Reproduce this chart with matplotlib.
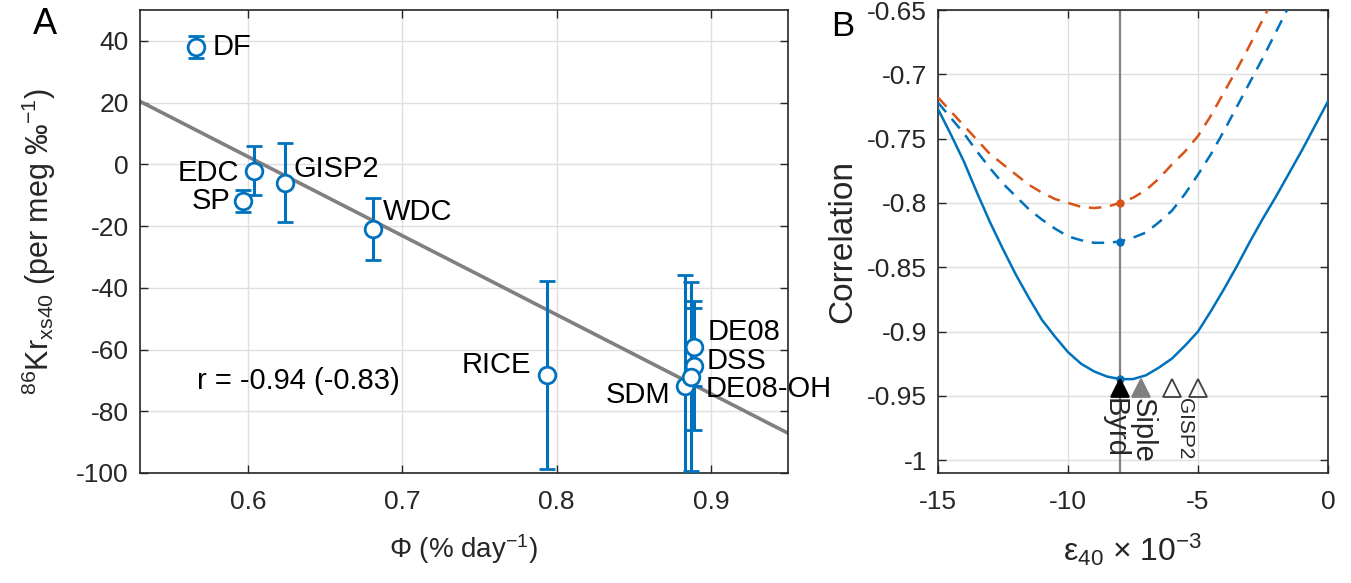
import matplotlib.pyplot as plt
import numpy as np

plt.rcParams['font.family'] = ['Liberation Sans', 'DejaVu Sans']
plt.rcParams['mathtext.fontset'] = 'custom'
plt.rcParams['mathtext.rm'] = 'Liberation Sans'
plt.rcParams['mathtext.it'] = 'Liberation Sans:italic'
plt.rcParams['mathtext.default'] = 'regular'
plt.rcParams['axes.unicode_minus'] = False

# ---- panel A data ----
sites = ['DF', 'EDC', 'SP', 'GISP2', 'WDC', 'RICE', 'SDM', 'DE08', 'DSS', 'DE08-OH']
phi = [0.566, 0.604, 0.597, 0.624, 0.681, 0.794, 0.883, 0.889, 0.889, 0.887]
kr = [38.0, -2.0, -11.8, -6.0, -21.0, -68.3, -71.7, -59.1, -65.2, -68.8]
kr_err = [3.7, 8.0, 3.5, 12.8, 10.0, 30.5, 36.0, 12.6, 20.8, 30.6]
fit_phi = [0.53, 0.95]
fit_kr = [20.4, -87.1]
r_text = 'r = -0.94 (-0.83)'

# ---- panel B data ----
eps_solid = [-15, -14.5, -14, -13.5, -13, -12.5, -12, -11.5, -11, -10.5, -10, -9.5, -9,
             -8.5, -8, -7.5, -7, -6.5, -6, -5.5, -5, -4.5, -4, -3.5, -3, -2.5, -2,
             -1.5, -1, -0.5, 0]
corr_solid = [-0.727, -0.747, -0.768, -0.792, -0.815, -0.836, -0.856, -0.874, -0.891,
              -0.904, -0.916, -0.925, -0.931, -0.935, -0.937, -0.937, -0.934, -0.928,
              -0.921, -0.911, -0.900, -0.884, -0.867, -0.849, -0.830, -0.812, -0.795,
              -0.777, -0.759, -0.740, -0.721]
eps_dash_blue = [-15, -14.5, -14, -13.5, -13, -12.5, -12, -11.5, -11, -10.5, -10, -9.5,
                 -9, -8.5, -8, -7.5, -7, -6.5, -6, -5.5, -5, -4.5, -4, -3.5, -3, -2.5,
                 -2, -1.5]
corr_dash_blue = [-0.722, -0.734, -0.746, -0.760, -0.773, -0.785, -0.795, -0.805, -0.813,
                  -0.820, -0.826, -0.829, -0.831, -0.831, -0.830, -0.827, -0.823, -0.815,
                  -0.806, -0.793, -0.778, -0.762, -0.744, -0.725, -0.706, -0.687, -0.667,
                  -0.647]
eps_dash_red = [-15, -14.5, -14, -13.5, -13, -12.5, -12, -11.5, -11, -10.5, -10, -9.5,
                -9, -8.5, -8, -7.5, -7, -6.5, -6, -5.5, -5, -4.5, -4, -3.5, -3, -2.5,
                -2.2]
corr_dash_red = [-0.718, -0.729, -0.740, -0.751, -0.762, -0.770, -0.778, -0.786, -0.792,
                 -0.797, -0.800, -0.803, -0.804, -0.803, -0.800, -0.796, -0.790, -0.781,
                 -0.770, -0.760, -0.748, -0.732, -0.714, -0.696, -0.677, -0.657, -0.645]
eps_best = -8
corr_best = [-0.937, -0.830, -0.800]
cores = ['Byrd', 'Siple', 'GISP2', 'GISP2']
core_eps = [-8, -7.2, -6, -5]
core_level = -0.944

blue = '#0072BD'
red = '#D95319'
axcol = '#262626'

fig = plt.figure(figsize=(13.51, 5.83), dpi=100)
axA = fig.add_axes([140/1351, 110/583, 648/1351, 463/583])
axB = fig.add_axes([938/1351, 110/583, 390/1351, 463/583])

for ax in (axA, axB):
    ax.grid(True, color='#dfdfdf', lw=1.0)
    ax.set_axisbelow(True)
    ax.tick_params(direction='in', length=6, width=1.0, colors=axcol,
                   labelsize=19, top=True, right=True)
    ax.tick_params(axis='x', pad=12)
    ax.tick_params(axis='y', pad=8)
    for s in ax.spines.values():
        s.set_color(axcol)
        s.set_linewidth(1.2)

# panel A
axA.plot(fit_phi, fit_kr, color='#808080', lw=2.6, zorder=2)
axA.errorbar(phi, kr, yerr=kr_err, fmt='o', color=blue, ecolor=blue, elinewidth=2.2,
             capsize=5.5, capthick=2.2, markersize=12, markerfacecolor='white',
             markeredgewidth=2, zorder=3)
label_off = {'DF': (12, 0, 'left'), 'EDC': (-10.5, -1.5, 'right'), 'SP': (-9.5, 0, 'right'),
             'GISP2': (6, 10, 'left'), 'WDC': (7, 12, 'left'), 'RICE': (-12, 7, 'right'),
             'SDM': (-10, -7, 'right'), 'DE08': (10, 10.5, 'left'), 'DSS': (9.5, 3.5, 'left'),
             'DE08-OH': (11, -9, 'left')}
for name, x, y in zip(sites, phi, kr):
    dx, dy, ha = label_off[name]
    axA.annotate(name, (x, y), xytext=(dx, dy), textcoords='offset points',
                 ha=ha, va='center', fontsize=21, color='black', zorder=4)
axA.text(0.567, -70.3, r_text, fontsize=21, ha='left', va='center')
axA.set_xlim(0.53, 0.95)
axA.set_ylim(-100, 50)
axA.set_xticks([0.6, 0.7, 0.8, 0.9])
axA.set_yticks(np.arange(-100, 41, 20))
axA.set_xlabel('$\\Phi$ (% day$^{-1}$)', fontsize=20, color=axcol, labelpad=13)
axA.set_ylabel('$^{86}$Kr$_{xs40}$ (per meg \u2030$^{-1}$)', fontsize=22, color=axcol,
               labelpad=13)
fig.text(45/1351, 1 - 25/583, 'A', fontsize=26, ha='center', va='center')

# panel B
axB.axvline(eps_best, color='#808080', lw=1.6, zorder=2)
axB.plot(eps_solid, corr_solid, color=blue, lw=1.8, zorder=3)
axB.plot(eps_dash_blue, corr_dash_blue, color=blue, lw=1.8, dashes=(5, 3.5), zorder=3)
axB.plot(eps_dash_red, corr_dash_red, color=red, lw=1.8, dashes=(5, 3.5), zorder=3)
axB.plot([eps_best] * 2, corr_best[:2], 'o', color=blue, markersize=5, zorder=4)
axB.plot(eps_best, corr_best[2], 'o', color=red, markersize=5, zorder=4)
tri_face = ['black', '#808080', 'none', 'none']
tri_edge = ['black', '#808080', '#404040', '#404040']
for x, fc, ec in zip(core_eps, tri_face, tri_edge):
    axB.plot(x, core_level, '^', markersize=13, markerfacecolor=fc,
             markeredgecolor=ec, markeredgewidth=1.3, zorder=5)
axB.annotate(cores[0], (core_eps[0], core_level), xytext=(-4, -7), textcoords='offset points',
             rotation=-90, ha='center', va='top', fontsize=21, color=axcol)
axB.annotate(cores[1], (core_eps[1], core_level), xytext=(1, -7), textcoords='offset points',
             rotation=-90, ha='center', va='top', fontsize=21, color=axcol)
axB.annotate(cores[2], (np.mean(core_eps[2:]), core_level), xytext=(0, -7),
             textcoords='offset points', rotation=-90, ha='center', va='top',
             fontsize=15, color=axcol)
axB.set_xlim(-15, 0)
axB.set_ylim(-1.01, -0.65)
axB.set_xticks([-15, -10, -5, 0])
axB.set_yticks(np.arange(-1.0, -0.649, 0.05))
axB.set_yticklabels(['-1', '-0.95', '-0.9', '-0.85', '-0.8', '-0.75', '-0.7', '-0.65'])
axB.set_xlabel('\u03b5$_{40}$ \u00d7 10$^{-3}$', fontsize=23, color=axcol, labelpad=13)
axB.set_ylabel('Correlation', fontsize=24, color=axcol, labelpad=6)
fig.text(843/1351, 1 - 27/583, 'B', fontsize=25, ha='center', va='center')

fig.savefig('out.png', dpi=100)
